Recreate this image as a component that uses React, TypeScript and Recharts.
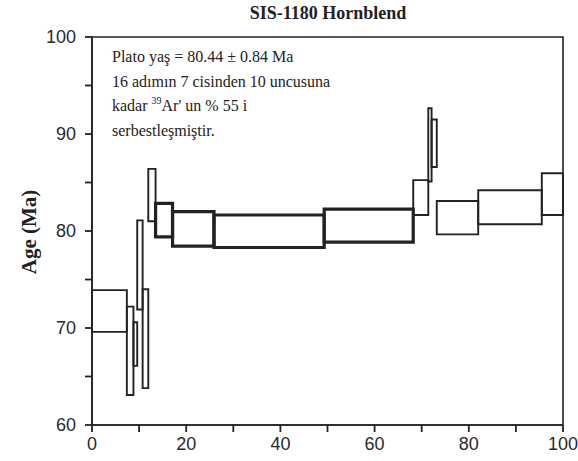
import { ComposedChart, XAxis, YAxis, ReferenceArea, Scatter } from 'recharts';

// cumulative % 39Ar released, step boundaries (17 values -> 16 steps)
const cumAr39 = [0, 7.4, 8.8, 9.6, 10.75, 11.95, 13.5, 17.1, 25.9, 49.3, 68.2, 71.4, 72.1, 73.2, 82.0, 95.5, 100];
// apparent age (Ma), lower and upper edge of each step box
const ageLow = [69.6, 63.1, 66.1, 71.9, 63.8, 81.0, 79.4, 78.45, 78.3, 78.85, 81.65, 85.1, 86.6, 79.65, 80.7, 81.65];
const ageHigh = [73.9, 72.2, 70.6, 81.1, 74.0, 86.4, 82.85, 82.0, 81.65, 82.25, 85.25, 92.65, 91.5, 83.1, 84.2, 85.95];
const plateauSteps = [7, 8, 9, 10];

const xTicks = [0, 10, 20, 30, 40, 50, 60, 70, 80, 90, 100];
const yTicks = [60, 65, 70, 75, 80, 85, 90, 95, 100];

const title = 'SIS-1180 Hornblend';
const yLabel = 'Age (Ma)';

const steps = ageLow.map((lo, i) => ({
  step: i + 1,
  x1: cumAr39[i],
  x2: cumAr39[i + 1],
  lo,
  hi: ageHigh[i],
  mid: (cumAr39[i] + cumAr39[i + 1]) / 2,
  age: (lo + ageHigh[i]) / 2,
}));

const ink = '#222';
const sans = '"Liberation Sans", Arial, sans-serif';
const serif = '"Liberation Serif", "Times New Roman", serif';

export default function App() {
  return (
    <div style={{ position: 'absolute', left: 0, top: 0, width: 578, height: 461, overflow: 'hidden', background: '#fff' }}>
      <ComposedChart width={578} height={461} data={steps} margin={{ top: 37, right: 15, left: 0, bottom: 0 }}>
        <XAxis
          dataKey="mid"
          type="number"
          domain={[0, 100]}
          ticks={xTicks}
          tickFormatter={(v: number) => (v % 20 === 0 ? String(v) : '')}
          tick={{ fill: '#2a2a2a', fontSize: 18, fontFamily: sans }}
          tickLine={{ stroke: ink, strokeWidth: 1.8 }}
          tickSize={7}
          tickMargin={5}
          height={36}
          axisLine={{ stroke: ink, strokeWidth: 1.6 }}
          interval={0}
        />
        <YAxis
          type="number"
          domain={[60, 100]}
          ticks={yTicks}
          tickFormatter={(v: number) => (v % 10 === 0 ? String(v) : '')}
          tick={{ fill: '#2a2a2a', fontSize: 18, fontFamily: sans }}
          tickLine={{ stroke: ink, strokeWidth: 1.8 }}
          tickSize={7}
          tickMargin={9}
          width={92}
          axisLine={{ stroke: ink, strokeWidth: 1.6 }}
          interval={0}
        />
        <ReferenceArea x1={0} x2={100} y1={60} y2={100} fill="none" stroke={ink} strokeWidth={1.6} />
        {steps.map((s) => (
          <ReferenceArea
            key={s.step}
            x1={s.x1}
            x2={s.x2}
            y1={s.lo}
            y2={s.hi}
            fill="none"
            fillOpacity={0}
            stroke={ink}
            strokeWidth={plateauSteps.includes(s.step) ? 3.2 : 1.9}
          />
        ))}
        <Scatter dataKey="age" fill="none" isAnimationActive={false} />
      </ComposedChart>

      <div style={{ position: 'absolute', left: 228, width: 200, top: 3, textAlign: 'center', fontFamily: serif, fontWeight: 'bold', fontSize: 18, color: ink, whiteSpace: 'nowrap' }}>
        {title}
      </div>

      <div style={{ position: 'absolute', left: 29, top: 232, transform: 'translate(-50%, -50%) rotate(-90deg)', fontFamily: serif, fontWeight: 'bold', fontSize: 21, color: ink, whiteSpace: 'nowrap' }}>
        {yLabel}
      </div>

      <div style={{ position: 'absolute', left: 112, top: 45, fontFamily: serif, fontSize: 16, lineHeight: '24.5px', color: ink, whiteSpace: 'nowrap' }}>
        <div>Plato yaş = 80.44 ± 0.84 Ma</div>
        <div>16 adımın 7 cisinden 10 uncusuna</div>
        <div>kadar <sup style={{ fontSize: 10, verticalAlign: 'top', lineHeight: '14px' }}>39</sup>Ar' un % 55 i</div>
        <div>serbestleşmiştir.</div>
      </div>
    </div>
  );
}
